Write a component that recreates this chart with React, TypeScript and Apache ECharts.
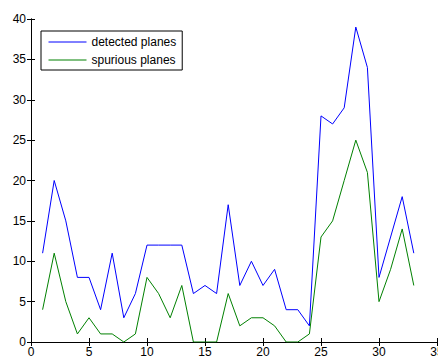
import React, { useEffect, useRef } from "react";
import * as echarts from "echarts";

const xs = [1,2,3,4,5,6,7,8,9,10,11,12,13,14,15,16,17,18,19,20,21,22,23,24,25,26,27,28,29,30,31,32,33];
const detected = [11,20,15,8,8,4,11,3,6,12,12,12,12,6,7,6,17,7,10,7,9,4,4,2,28,27,29,39,34,8,13,18,11];
const spurious = [4,11,5,1,3,1,1,0,1,8,6,3,7,0,0,0,6,2,3,3,2,0,0,1,13,15,20,25,21,5,9,14,7];
const seriesNames = ["detected planes", "spurious planes"];

export default function App() {
  const ref = useRef<HTMLDivElement>(null);
  useEffect(() => {
    if (!ref.current) return;
    const chart = echarts.init(ref.current, undefined, { renderer: "svg" });
    const font = "Liberation Sans, Arial, sans-serif";
    const axisCommon = {
      type: "value" as const,
      axisLine: { show: true, lineStyle: { color: "#000", width: 1 } },
      axisTick: { show: true, inside: true, length: 4, lineStyle: { color: "#000" } },
      splitLine: { show: false },
    };
    chart.setOption({
      animation: false,
      backgroundColor: "#fff",
      grid: { left: 31, top: 19, right: 1, bottom: 16, containLabel: false, outerBoundsMode: "none" },
      legend: {
        orient: "vertical",
        left: 41,
        top: 31,
        data: seriesNames,
        borderColor: "#000",
        borderWidth: 1,
        backgroundColor: "#fff",
        padding: [5, 6, 4, 7],
        itemWidth: 38,
        itemHeight: 12,
        itemGap: 6,
        itemStyle: { opacity: 0 },
        lineStyle: { width: 1 },
        textStyle: { fontFamily: font, fontSize: 12, color: "#000" },
      },
      xAxis: [
        {
          ...axisCommon,
          min: 0,
          max: 35,
          interval: 5,
          position: "bottom",
          axisLabel: { fontFamily: font, fontSize: 12, color: "#000", margin: 4 },
        },
        {
          ...axisCommon,
          min: 0,
          max: 35,
          interval: 5,
          position: "top",
          axisLabel: { show: false },
        },
      ],
      yAxis: [
        {
          ...axisCommon,
          min: 0,
          max: 40,
          interval: 5,
          position: "left",
          axisLabel: { fontFamily: font, fontSize: 12, color: "#000", margin: 5 },
        },
        {
          ...axisCommon,
          min: 0,
          max: 40,
          interval: 5,
          position: "right",
          axisLabel: { show: false },
        },
      ],
      series: [
        {
          name: seriesNames[0],
          type: "line",
          xAxisIndex: 0,
          yAxisIndex: 0,
          symbol: "none",
          lineStyle: { color: "#0000ff", width: 1 },
          itemStyle: { color: "#0000ff" },
          data: xs.map((x, i) => [x, detected[i]]),
        },
        {
          name: seriesNames[1],
          type: "line",
          xAxisIndex: 0,
          yAxisIndex: 0,
          symbol: "none",
          lineStyle: { color: "#008000", width: 1 },
          itemStyle: { color: "#008000" },
          data: xs.map((x, i) => [x, spurious[i]]),
        },
      ],
    });
    return () => chart.dispose();
  }, []);
  return (
    <div
      ref={ref}
      style={{ position: "absolute", left: 0, top: 0, width: 438, height: 358 }}
    />
  );
}
